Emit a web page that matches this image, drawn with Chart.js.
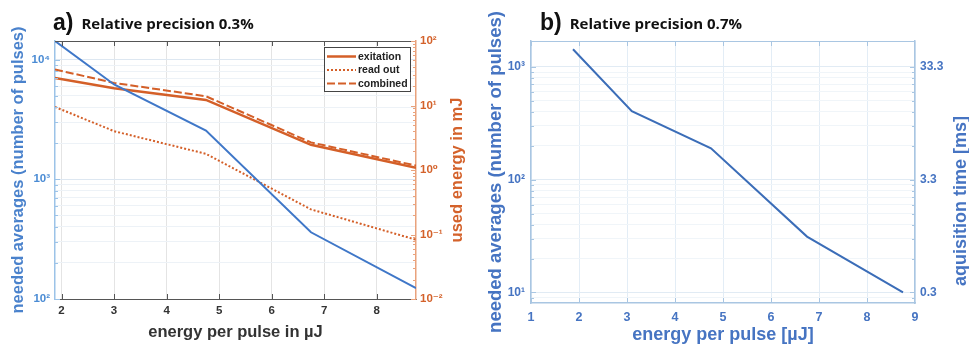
<!DOCTYPE html>
<html><head><meta charset="utf-8">
<script src="https://cdn.jsdelivr.net/npm/chart.js@4/dist/chart.umd.min.js"></script>
<style>
body{margin:0;width:969px;height:344px;overflow:hidden;background:#fff;position:relative;}
#ca{position:absolute;left:0;top:0;}
#cb{position:absolute;left:485px;top:0;}
.ttl{position:absolute;top:9px;white-space:nowrap;color:#111;}
.ttl .big{font:bold 23px "Liberation Sans",Arial,sans-serif;}
.ttl .small{font:bold 15px "Open Sans",sans-serif;margin-left:8px;position:relative;top:-1px;}
</style></head><body>
<canvas id="ca" width="485" height="344"></canvas>
<canvas id="cb" width="488" height="344"></canvas>
<div class="ttl" style="left:53px"><span class="big">a)</span><span class="small">Relative precision 0.3%</span></div>
<div class="ttl" style="left:540px"><span class="big">b)</span><span class="small">Relative precision 0.7%</span></div>
<script>
// ---------- data ----------
const energyA = [1.875, 3.0, 4.75, 6.75, 8.75];            // energy per pulse in µJ
const neededA = [14300, 6200, 2550, 361, 123];             // needed averages (left axis)
const exitationA = [26.7, 18.5, 12.2, 2.46, 1.08];         // used energy in mJ
const readOutA = [9.5, 4.0, 1.78, 0.245, 0.083];
const combinedA = [36.2, 22.4, 13.9, 2.68, 1.17];
const legendLabelsA = ['exitation', 'read out', 'combined'];

const energyB = [1.875, 3.1, 4.75, 6.75, 8.75];
const neededB = [1435, 405, 190, 31.3, 10];
const acqTickLabelsB = ['0.3', '3.3', '33.3'];            // aquisition time [ms] labels at 10^1,10^2,10^3

const xTicksA = [2, 3, 4, 5, 6, 7, 8];
const xTicksB = [1, 2, 3, 4, 5, 6, 7, 8, 9];

// ---------- helpers ----------
const FAM = '"Liberation Sans", "DejaVu Sans", Arial, sans-serif';
const SUP = {'-':'⁻','0':'⁰','1':'¹','2':'²','3':'³','4':'⁴','5':'⁵','6':'⁶','7':'⁷','8':'⁸','9':'⁹'};
function pow10Label(v){
  const e = Math.round(Math.log10(v));
  if (Math.abs(Math.log10(v) - e) > 1e-6) return '';
  return '10' + String(e).split('').map(c => SUP[c]).join('');
}
function isMajor(v){ const l = Math.log10(v); return Math.abs(l - Math.round(l)) < 1e-6; }
function logTicks(scale){
  const min = scale.min, max = scale.max, out = [];
  for (let e = Math.floor(Math.log10(min)); e <= Math.ceil(Math.log10(max)); e++){
    for (let m = 1; m <= 9; m++){
      const v = m * Math.pow(10, e);
      if (v >= min * 0.9999 && v <= max * 1.0001) out.push({value: v, major: m === 1});
    }
  }
  scale.ticks = out;
}
function pts(xs, ys){ return xs.map((x, i) => ({x: x, y: ys[i]})); }

// inward tick marks + top border + right-side title reading bottom-to-top
const framePlugin = {
  id: 'frame',
  afterDraw(chart, args, opts){
    const ctx = chart.ctx, a = chart.chartArea;
    ctx.save();
    ctx.lineWidth = 1;
    ctx.strokeStyle = opts.topColor;
    ctx.beginPath(); ctx.moveTo(a.left, a.top + 0.5); ctx.lineTo(a.right, a.top + 0.5); ctx.stroke();
    Object.values(chart.scales).forEach(s => {
      const col = s.options.border.color;
      s.ticks.forEach(t => {
        const major = s.type === 'logarithmic' ? isMajor(t.value) : true;
        const len = major ? 5 : 3;
        const p = Math.round(s.getPixelForValue(t.value)) + 0.5;
        ctx.beginPath();
        if (s.axis === 'x'){
          if (p < a.left || p > a.right) return;
          ctx.strokeStyle = opts.topColor;
          ctx.moveTo(p, a.bottom); ctx.lineTo(p, a.bottom - len);
          ctx.moveTo(p, a.top); ctx.lineTo(p, a.top + len);
        } else if (s.position === 'left'){
          ctx.strokeStyle = col;
          ctx.moveTo(a.left, p); ctx.lineTo(a.left + len, p);
        } else {
          ctx.strokeStyle = col;
          ctx.moveTo(a.right, p); ctx.lineTo(a.right - len, p);
        }
        ctx.stroke();
      });
    });
    const rt = opts.rightTitle;
    if (rt){
      ctx.translate(a.right + rt.dx, (a.top + a.bottom) / 2 + rt.dy);
      ctx.rotate(-Math.PI / 2);
      ctx.font = 'bold ' + rt.size + 'px ' + FAM;
      ctx.fillStyle = rt.color;
      ctx.textAlign = 'center';
      ctx.textBaseline = 'middle';
      ctx.fillText(rt.text, 0, 0);
    }
    ctx.restore();
  }
};

// boxed legend inside the chart area (top-right)
const boxLegend = {
  id: 'boxLegend',
  afterDatasetsDraw(chart, args, opts){
    if (!opts.show) return;
    const ctx = chart.ctx, a = chart.chartArea;
    const w = 86, h = 44, x = a.right - w - 6, y = a.top + 6;
    ctx.save();
    ctx.fillStyle = '#fff';
    ctx.fillRect(x, y, w, h);
    ctx.strokeStyle = '#444'; ctx.lineWidth = 1;
    ctx.strokeRect(x + 0.5, y + 0.5, w, h);
    ctx.font = 'bold 10.5px ' + FAM;
    ctx.textBaseline = 'middle';
    opts.items.forEach((it, i) => {
      const ds = chart.data.datasets[it];
      const yy = y + 9.5 + i * 13.5;
      ctx.strokeStyle = ds.borderColor; ctx.lineWidth = ds.borderWidth;
      ctx.setLineDash(ds.borderDash || []);
      ctx.beginPath(); ctx.moveTo(x + 3, yy); ctx.lineTo(x + 32, yy); ctx.stroke();
      ctx.setLineDash([]);
      ctx.fillStyle = '#222';
      ctx.fillText(ds.label, x + 34, yy + 0.5);
    });
    ctx.restore();
  }
};

// ---------- Chart A ----------
const BLUE_A = '#3F77C8', ORANGE = '#D45F28';
new Chart(document.getElementById('ca'), {
  type: 'line',
  data: {
    datasets: [
      {label: 'needed averages', data: pts(energyA, neededA), yAxisID: 'y', borderColor: BLUE_A, borderWidth: 2, pointRadius: 0},
      {label: legendLabelsA[0], data: pts(energyA, exitationA), yAxisID: 'y2', borderColor: ORANGE, borderWidth: 2.5, pointRadius: 0},
      {label: legendLabelsA[1], data: pts(energyA, readOutA), yAxisID: 'y2', borderColor: ORANGE, borderWidth: 2, borderDash: [2, 2], pointRadius: 0},
      {label: legendLabelsA[2], data: pts(energyA, combinedA), yAxisID: 'y2', borderColor: ORANGE, borderWidth: 2, borderDash: [8, 3], pointRadius: 0}
    ]
  },
  options: {
    responsive: false, animation: false,
    layout: {padding: {top: 41, right: 14, left: 0, bottom: 0}},
    plugins: {legend: {display: false}, tooltip: {enabled: false},
      frame: {topColor: '#555', rightTitle: {text: 'used energy in mJ', color: '#D4622B', size: 16.5, dx: 41, dy: 0}},
      boxLegend: {show: true, items: [1, 2, 3]}},
    scales: {
      x: {type: 'linear', min: 1.875, max: 8.75,
        afterBuildTicks: s => { s.ticks = xTicksA.map(v => ({value: v})); },
        afterFit: s => { s.height = 45; },
        grid: {color: '#e4e4e4', drawTicks: false},
        border: {color: '#555', width: 1},
        ticks: {color: '#333', font: {family: FAM, weight: 'bold', size: 11.5}, padding: 5, maxRotation: 0, callback: v => String(v)},
        title: {display: true, text: 'energy per pulse in µJ', color: '#333', font: {family: FAM, weight: 'bold', size: 16.5}, padding: {top: 0, bottom: 2}}
      },
      y: {type: 'logarithmic', position: 'left', min: 100, max: 14300,
        afterBuildTicks: logTicks,
        afterFit: s => { s.width = 55; },
        grid: {drawTicks: false, color: c => isMajor(c.tick.value) ? '#dde7f1' : '#edf2f7'},
        border: {color: '#9CC3E8', width: 1.5},
        ticks: {color: '#4A8BD4', font: {family: FAM, weight: 'bold', size: 11.5}, padding: 5, autoSkip: false, callback: v => pow10Label(v)},
        title: {display: true, text: 'needed averages (number of pulses)', color: '#4A82CC', font: {family: FAM, weight: 'bold', size: 16.5}, padding: {top: 9, bottom: 0}}
      },
      y2: {type: 'logarithmic', position: 'right', min: 0.01, max: 100,
        afterBuildTicks: logTicks,
        afterFit: s => { s.width = 55; },
        grid: {drawOnChartArea: false, drawTicks: false},
        border: {color: '#E9A27C', width: 1.5},
        ticks: {color: '#D4622B', font: {family: FAM, weight: 'bold', size: 11.5}, padding: 4, autoSkip: false, callback: v => pow10Label(v)},
        title: {display: false}
      }
    }
  },
  plugins: [framePlugin, boxLegend]
});

// ---------- Chart B ----------
const BLUE_B = '#3B6DB8', TXT_B = '#4674C2', AX_B = '#A9C6E2';
new Chart(document.getElementById('cb'), {
  type: 'line',
  data: {
    datasets: [
      {label: 'needed averages', data: pts(energyB, neededB), yAxisID: 'y', borderColor: BLUE_B, borderWidth: 2, pointRadius: 0}
    ]
  },
  options: {
    responsive: false, animation: false,
    layout: {padding: {top: 41, right: 0, left: 0, bottom: 0}},
    plugins: {legend: {display: false}, tooltip: {enabled: false},
      frame: {topColor: AX_B, rightTitle: {text: 'aquisition time [ms]', color: TXT_B, size: 18, dx: 46, dy: 29}},
      boxLegend: {show: false}},
    scales: {
      x: {type: 'linear', min: 1, max: 9,
        afterBuildTicks: s => { s.ticks = xTicksB.map(v => ({value: v})); },
        afterFit: s => { s.height = 41; },
        grid: {color: '#e3edf6', drawTicks: false},
        border: {color: AX_B, width: 1.5},
        ticks: {color: TXT_B, font: {family: FAM, weight: 'bold', size: 12.5}, padding: 7, maxRotation: 0, callback: v => String(v)},
        title: {display: true, text: 'energy per pulse [µJ]', color: TXT_B, font: {family: FAM, weight: 'bold', size: 18}, padding: {top: 0, bottom: -2}}
      },
      y: {type: 'logarithmic', position: 'left', min: 8.06, max: 1700,
        afterBuildTicks: logTicks,
        afterFit: s => { s.width = 46; },
        grid: {drawTicks: false, color: c => isMajor(c.tick.value) ? '#e1ebf4' : '#f0f5f9'},
        border: {color: AX_B, width: 1.5},
        ticks: {color: TXT_B, font: {family: FAM, weight: 'bold', size: 12}, padding: 6, autoSkip: false, callback: v => pow10Label(v)},
        title: {display: true, text: 'needed averages (number of pulses)', color: TXT_B, font: {family: FAM, weight: 'bold', size: 18.5}, padding: {top: 0, bottom: 0}}
      },
      y2: {type: 'logarithmic', position: 'right', min: 8.06, max: 1700,
        afterBuildTicks: logTicks,
        afterFit: s => { s.width = 58; },
        grid: {drawOnChartArea: false, drawTicks: false},
        border: {color: AX_B, width: 1.5},
        ticks: {color: TXT_B, font: {family: FAM, weight: 'bold', size: 12}, padding: 5, autoSkip: false,
          callback: v => { const l = pow10Label(v); return l ? acqTickLabelsB[Math.round(Math.log10(v)) - 1] : ''; }},
        title: {display: false}
      }
    }
  },
  plugins: [framePlugin, boxLegend]
});
</script>
</body></html>
